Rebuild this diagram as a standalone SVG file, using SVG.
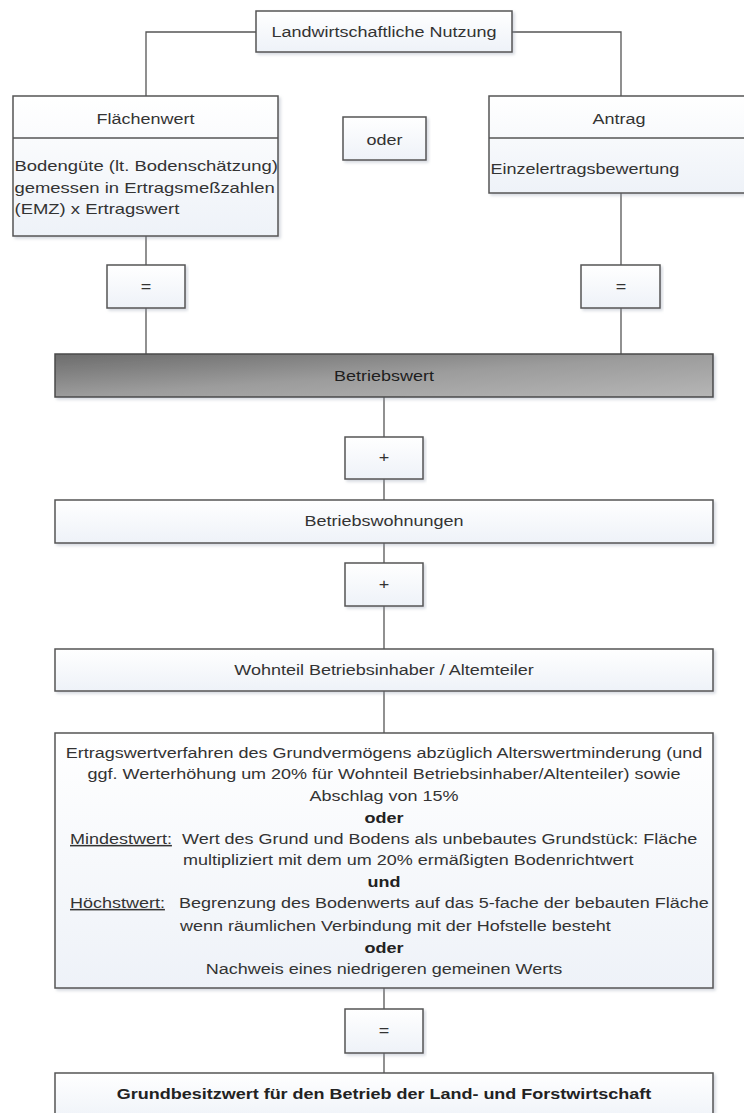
<svg xmlns="http://www.w3.org/2000/svg" width="744" height="1113" viewBox="0 0 744 1113">
  <defs>
    <linearGradient id="boxFill" x1="0" y1="0" x2="0" y2="1">
      <stop offset="0" stop-color="#ffffff"/>
      <stop offset="1" stop-color="#eef2f8"/>
    </linearGradient>
    <linearGradient id="darkFill" x1="0" y1="0" x2="1" y2="1">
      <stop offset="0" stop-color="#6c6c6c"/>
      <stop offset="0.5" stop-color="#9c9c9c"/>
      <stop offset="1" stop-color="#b6b6b6"/>
    </linearGradient>
    <filter id="shadow" x="-5%" y="-20%" width="110%" height="150%">
      <feDropShadow dx="2" dy="2" stdDeviation="1.5" flood-color="#8a93a6" flood-opacity="0.35"/>
    </filter>
  </defs>
  <style>
    .box { fill: url(#boxFill); stroke: #555; stroke-width: 1.5; filter: url(#shadow); }
    .dark { fill: url(#darkFill); stroke: #4a4a4a; stroke-width: 1.5; filter: url(#shadow); }
    .div { stroke: #555; stroke-width: 1.5; fill: none; }
    .conn { stroke: #555; stroke-width: 1.3; fill: none; }
    text { font-family: "Liberation Sans", Arial, sans-serif; font-size: 15px; fill: #333; }
    .c { text-anchor: middle; }
    .b { font-weight: bold; fill: #222; }
    .u { text-decoration: underline; }
  </style>
  <rect width="744" height="1113" fill="#ffffff"/>

  <g id="connectors">
    <path class="conn" d="M256 32 H146 V96"/>
    <path class="conn" d="M512 32 H621 V96"/>
    <path class="conn" d="M146 236 V265"/>
    <path class="conn" d="M146 308 V354"/>
    <path class="conn" d="M621 193 V265"/>
    <path class="conn" d="M621 308 V354"/>
    <path class="conn" d="M384 397 V437"/>
    <path class="conn" d="M384 479 V500"/>
    <path class="conn" d="M384 543 V563"/>
    <path class="conn" d="M384 606 V649"/>
    <path class="conn" d="M384 691 V733"/>
    <path class="conn" d="M384 988 V1009"/>
    <path class="conn" d="M384 1053 V1073"/>
  </g>

  <g id="landwirtschaftliche-nutzung">
    <rect class="box" x="256" y="11" width="256" height="41"/>
    <text class="c" transform="translate(384 37) scale(1.2 1)">Landwirtschaftliche Nutzung</text>
  </g>

  <g id="flaechenwert">
    <rect class="box" x="13" y="96" width="265" height="140"/>
    <line class="div" x1="13" y1="138" x2="278" y2="138"/>
    <text class="c" transform="translate(145.5 124) scale(1.2 1)">Flächenwert</text>
    <text transform="translate(14.5 171) scale(1.23 1)">Bodengüte (lt. Bodenschätzung)</text>
    <text transform="translate(14.5 192.5) scale(1.23 1)">gemessen in Ertragsmeßzahlen</text>
    <text transform="translate(14.5 214) scale(1.23 1)">(EMZ) x Ertragswert</text>
  </g>

  <g id="oder">
    <rect class="box" x="343" y="117" width="83" height="43"/>
    <text class="c" transform="translate(384.5 145) scale(1.2 1)">oder</text>
  </g>

  <g id="antrag">
    <rect class="box" x="489" y="96" width="262" height="97"/>
    <line class="div" x1="489" y1="138" x2="751" y2="138"/>
    <text class="c" transform="translate(619 124) scale(1.2 1)">Antrag</text>
    <text transform="translate(490.5 174) scale(1.2 1)">Einzelertragsbewertung</text>
  </g>

  <g id="gleich-links">
    <rect class="box" x="107" y="265" width="78" height="43"/>
    <text class="c" transform="translate(146 292) scale(1.2 1)">=</text>
  </g>

  <g id="gleich-rechts">
    <rect class="box" x="581" y="265" width="79" height="43"/>
    <text class="c" transform="translate(621 292) scale(1.2 1)">=</text>
  </g>

  <g id="betriebswert">
    <rect class="dark" x="55" y="354" width="658" height="43"/>
    <text class="c" fill="#222" style="fill:#1e1e1e" transform="translate(384 381) scale(1.2 1)">Betriebswert</text>
  </g>

  <g id="plus-1">
    <rect class="box" x="345" y="437" width="78" height="42"/>
    <text class="c" transform="translate(384 462) scale(1.2 1)">+</text>
  </g>

  <g id="betriebswohnungen">
    <rect class="box" x="55" y="500" width="658" height="43"/>
    <text class="c" transform="translate(384 526) scale(1.2 1)">Betriebswohnungen</text>
  </g>

  <g id="plus-2">
    <rect class="box" x="345" y="563" width="78" height="43"/>
    <text class="c" transform="translate(384 589) scale(1.2 1)">+</text>
  </g>

  <g id="wohnteil">
    <rect class="box" x="55" y="649" width="658" height="42"/>
    <text class="c" transform="translate(384 675) scale(1.2 1)">Wohnteil Betriebsinhaber / Altemteiler</text>
  </g>

  <g id="bewertung">
    <rect class="box" x="55" y="733" width="658" height="255"/>
    <text class="c" transform="translate(384 758) scale(1.2 1)">Ertragswertverfahren des Grundvermögens abzüglich Alterswertminderung (und</text>
    <text class="c" transform="translate(384 779) scale(1.2 1)">ggf. Werterhöhung um 20% für Wohnteil Betriebsinhaber/Altenteiler) sowie</text>
    <text class="c" transform="translate(384 801) scale(1.2 1)">Abschlag von 15%</text>
    <text class="c b" transform="translate(384 823) scale(1.2 1)">oder</text>
    <text class="u" transform="translate(70 844) scale(1.2 1)">Mindestwert:</text>
    <text transform="translate(182 844) scale(1.2 1)">Wert des Grund und Bodens als unbebautes Grundstück: Fläche</text>
    <text transform="translate(183 865) scale(1.2 1)">multipliziert mit dem um 20% ermäßigten Bodenrichtwert</text>
    <text class="c b" transform="translate(384 887) scale(1.2 1)">und</text>
    <text class="u" transform="translate(70 908) scale(1.2 1)">Höchstwert:</text>
    <text transform="translate(179 908) scale(1.2 1)">Begrenzung des Bodenwerts auf das 5-fache der bebauten Fläche</text>
    <text transform="translate(180 931) scale(1.2 1)">wenn räumlichen Verbindung mit der Hofstelle besteht</text>
    <text class="c b" transform="translate(384 953) scale(1.2 1)">oder</text>
    <text class="c" transform="translate(384 974) scale(1.2 1)">Nachweis eines niedrigeren gemeinen Werts</text>
  </g>

  <g id="gleich-unten">
    <rect class="box" x="345" y="1009" width="78" height="44"/>
    <text class="c" transform="translate(384 1036) scale(1.2 1)">=</text>
  </g>

  <g id="grundbesitzwert">
    <rect class="box" x="55" y="1073" width="658" height="50"/>
    <text class="c b" transform="translate(384 1099) scale(1.2 1)">Grundbesitzwert für den Betrieb der Land- und Forstwirtschaft</text>
  </g>
</svg>
